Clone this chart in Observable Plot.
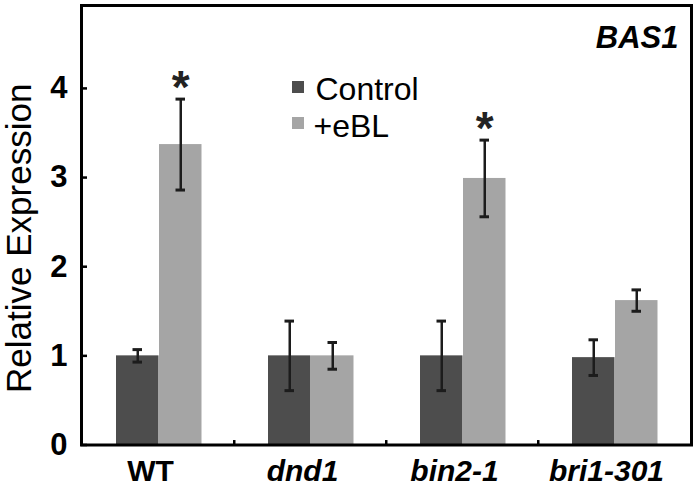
<!DOCTYPE html>
<html>
<head>
<meta charset="utf-8">
<script src="https://cdn.jsdelivr.net/npm/d3@7"></script>
<script src="https://cdn.jsdelivr.net/npm/@observablehq/plot@0.6"></script>
<style>
  html, body { margin: 0; padding: 0; background: #fff; }
</style>
</head>
<body>
<div id="chart"></div>
<script>
const genotypes = ["WT", "dnd1", "bin2-1", "bri1-301"];
const treatments = ["Control", "+eBL"];
const controlMean = [1.0, 1.0, 1.0, 0.98];
const controlErr = [0.07, 0.39, 0.39, 0.2];
const eblMean = [3.37, 1.0, 2.99, 1.62];
const eblErr = [0.51, 0.15, 0.43, 0.12];
const significant = [true, false, true, false];
const yTicks = [0, 1, 2, 3, 4];
const title = "BAS1";
const yLabel = "Relative Expression";

const controlRows = genotypes.map((g, i) => ({genotype: g, treatment: treatments[0], value: controlMean[i], err: controlErr[i], sig: false}));
const eblRows = genotypes.map((g, i) => ({genotype: g, treatment: treatments[1], value: eblMean[i], err: eblErr[i], sig: significant[i]}));

const errStroke = "#1c1c1c";
const font = "'Liberation Sans', Arial, Helvetica, sans-serif";

const chart = Plot.plot({
  width: 698,
  height: 486,
  marginLeft: 81,
  marginRight: 7,
  marginTop: 5,
  marginBottom: 41.5,
  style: {fontFamily: font, background: "#fff", color: "#000"},
  x: {domain: genotypes, padding: 0, label: null},
  y: {domain: [0, 4.93], label: null},
  color: {domain: treatments, range: ["#4d4d4d", "#a5a5a5"]},
  marks: [
    Plot.barY(controlRows, {x: "genotype", y: "value", fill: "treatment", insetLeft: 34, insetRight: 75.5}),
    Plot.barY(eblRows, {x: "genotype", y: "value", fill: "treatment", insetLeft: 77, insetRight: 32.5}),
    // error bars
    Plot.ruleX(controlRows, {x: "genotype", y1: d => d.value - d.err, y2: d => d.value + d.err, dx: -20.75, stroke: errStroke, strokeWidth: 2.5}),
    Plot.ruleX(eblRows, {x: "genotype", y1: d => d.value - d.err, y2: d => d.value + d.err, dx: 22.25, stroke: errStroke, strokeWidth: 2.5}),
    Plot.tickY(controlRows, {x: "genotype", y: d => d.value + d.err, insetLeft: 50.5, insetRight: 92, stroke: errStroke, strokeWidth: 3}),
    Plot.tickY(controlRows, {x: "genotype", y: d => d.value - d.err, insetLeft: 50.5, insetRight: 92, stroke: errStroke, strokeWidth: 3}),
    Plot.tickY(eblRows, {x: "genotype", y: d => d.value + d.err, insetLeft: 93.5, insetRight: 49, stroke: errStroke, strokeWidth: 3}),
    Plot.tickY(eblRows, {x: "genotype", y: d => d.value - d.err, insetLeft: 93.5, insetRight: 49, stroke: errStroke, strokeWidth: 3}),
    // significance asterisks
    Plot.text(eblRows.filter(d => d.sig), {x: "genotype", y: d => d.value + d.err, text: () => "*", dx: 22.25, dy: -11, fontSize: 46, fontWeight: "bold", fill: "#222", lineAnchor: "middle"}),
    // frame
    Plot.frame({stroke: "#000", strokeWidth: 3}),
    // small category separator ticks
    Plot.ruleX(genotypes.slice(1), {x: d => d, dx: -76.25, y1: 0, y2: 0.05, stroke: "#000", strokeWidth: 2.5}),
    // axes
    Plot.axisY({ticks: yTicks, tickFormat: d3.format("d"), tickSize: -6, tickPadding: 20, fontSize: 31, fontWeight: "bold", strokeWidth: 2.5, label: null}),
    Plot.axisX({ticks: ["WT"], tickSize: 0, tickPadding: 14.5, fontSize: 30, fontWeight: "bold", dx: -8, label: null}),
    Plot.axisX({ticks: genotypes.slice(1), tickSize: 0, tickPadding: 14.5, fontSize: 30, fontWeight: "bold", fontStyle: "italic", dx: -8, label: null}),
    // y label
    Plot.text([yLabel], {frameAnchor: "left", text: d => d, rotate: -90, dx: -62, dy: 13, fontSize: 35, textAnchor: "middle", lineAnchor: "middle"}),
    // title
    Plot.text([title], {frameAnchor: "top-right", text: d => d, dx: -13, dy: 32.4, fontSize: 31, fontWeight: "bold", fontStyle: "italic", textAnchor: "end", lineAnchor: "middle"}),
    // legend
    Plot.dot([treatments[0]], {frameAnchor: "top-left", dx: 216.5, dy: 81.5, symbol: "square", r: 6.8, fill: d => d}),
    Plot.dot([treatments[1]], {frameAnchor: "top-left", dx: 216.5, dy: 117.5, symbol: "square", r: 6.8, fill: d => d}),
    Plot.text([treatments[0]], {frameAnchor: "top-left", text: d => d, dx: 234, dy: 84, fontSize: 32, textAnchor: "start", lineAnchor: "middle"}),
    Plot.text([treatments[1]], {frameAnchor: "top-left", text: d => d, dx: 232, dy: 121, fontSize: 32, textAnchor: "start", lineAnchor: "middle"})
  ]
});
document.getElementById("chart").appendChild(chart);
</script>
</body>
</html>
